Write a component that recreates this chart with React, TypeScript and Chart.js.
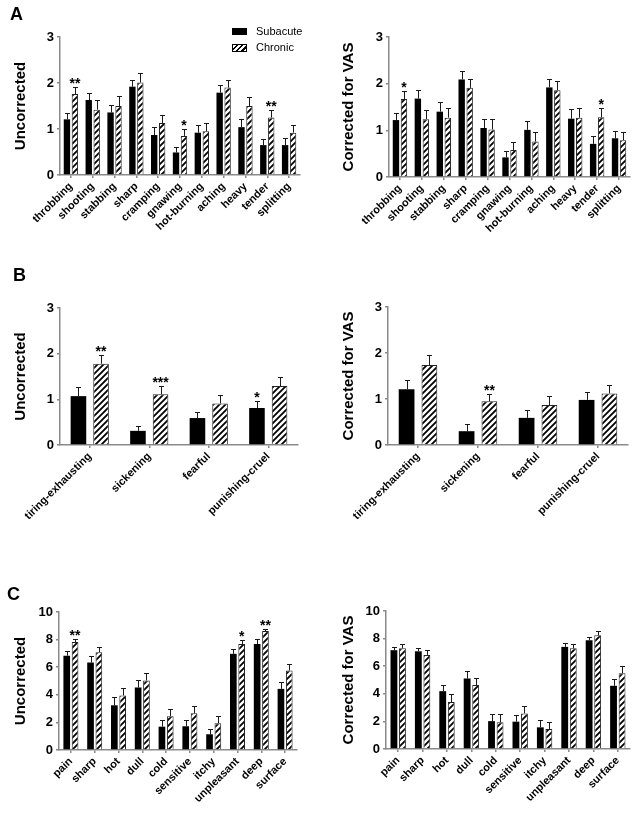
import React, { useEffect, useRef } from "react";
import { Chart, registerables } from "chart.js";

Chart.register(...registerables);

const FONT = "'Liberation Sans', Arial, sans-serif";

// ---------- Panel A ----------
const labelsA = ["throbbing", "shooting", "stabbing", "sharp", "cramping", "gnawing", "hot-burning", "aching", "heavy", "tender", "splitting"];
const aUncSub = [1.21, 1.63, 1.36, 1.92, 0.87, 0.49, 0.92, 1.79, 1.04, 0.65, 0.65];
const aUncSubErr = [0.13, 0.15, 0.16, 0.15, 0.17, 0.11, 0.17, 0.16, 0.18, 0.13, 0.16];
const aUncChr = [1.76, 1.42, 1.5, 2.01, 1.13, 0.85, 0.95, 1.9, 1.5, 1.25, 0.92];
const aUncChrErr = [0.15, 0.2, 0.21, 0.2, 0.17, 0.15, 0.18, 0.16, 0.19, 0.17, 0.16];
const aUncSubSig = ["", "", "", "", "", "", "", "", "", "", ""];
const aUncChrSig = ["**", "", "", "", "", "*", "", "", "", "**", ""];

const aCorSub = [1.22, 1.68, 1.4, 2.09, 1.05, 0.42, 1.01, 1.92, 1.25, 0.71, 0.83];
const aCorSubErr = [0.16, 0.18, 0.2, 0.18, 0.19, 0.14, 0.19, 0.18, 0.2, 0.16, 0.15];
const aCorChr = [1.67, 1.24, 1.27, 1.91, 1.02, 0.58, 0.76, 1.86, 1.27, 1.28, 0.79];
const aCorChrErr = [0.17, 0.2, 0.2, 0.19, 0.22, 0.16, 0.21, 0.2, 0.2, 0.19, 0.17];
const aCorSubSig = ["", "", "", "", "", "", "", "", "", "", ""];
const aCorChrSig = ["*", "", "", "", "", "", "", "", "", "*", ""];

// ---------- Panel B ----------
const labelsB = ["tiring-exhausting", "sickening", "fearful", "punishing-cruel"];
const bUncSub = [1.07, 0.31, 0.59, 0.81];
const bUncSubErr = [0.2, 0.11, 0.14, 0.16];
const bUncChr = [1.78, 1.11, 0.91, 1.29];
const bUncChrErr = [0.19, 0.19, 0.18, 0.19];
const bUncSubSig = ["", "", "", "*"];
const bUncChrSig = ["**", "***", "", ""];

const bCorSub = [1.21, 0.3, 0.59, 0.98];
const bCorSubErr = [0.21, 0.16, 0.18, 0.18];
const bCorChr = [1.74, 0.95, 0.87, 1.12];
const bCorChrErr = [0.22, 0.15, 0.19, 0.19];
const bCorSubSig = ["", "", "", ""];
const bCorChrSig = ["", "**", "", ""];

// ---------- Panel C ----------
const labelsC = ["pain", "sharp", "hot", "dull", "cold", "sensitive", "itchy", "unpleasant", "deep", "surface"];
const cUncSub = [6.83, 6.34, 3.24, 4.53, 1.69, 1.72, 1.14, 6.97, 7.68, 4.43];
const cUncSubErr = [0.31, 0.44, 0.59, 0.51, 0.46, 0.43, 0.41, 0.34, 0.33, 0.49];
const cUncChr = [7.82, 7.09, 3.95, 5.04, 2.45, 2.66, 1.94, 7.68, 8.62, 5.76];
const cUncChrErr = [0.24, 0.37, 0.51, 0.53, 0.5, 0.51, 0.51, 0.31, 0.17, 0.49];
const cUncSubSig = ["", "", "", "", "", "", "", "", "", ""];
const cUncChrSig = ["**", "", "", "", "", "", "", "*", "**", ""];

const cCorSub = [7.16, 7.08, 4.19, 5.11, 2.02, 1.98, 1.57, 7.4, 7.88, 4.58];
const cCorSubErr = [0.24, 0.27, 0.48, 0.53, 0.51, 0.48, 0.5, 0.29, 0.26, 0.48];
const cCorChr = [7.3, 6.82, 3.4, 4.63, 1.93, 2.58, 1.45, 7.3, 8.24, 5.49];
const cCorChrErr = [0.29, 0.34, 0.55, 0.55, 0.58, 0.53, 0.5, 0.29, 0.31, 0.56];
const cCorSubSig = ["", "", "", "", "", "", "", "", "", ""];
const cCorChrSig = ["", "", "", "", "", "", "", "", "", ""];

const seriesNames = ["Subacute", "Chronic"];

function makeHatch(): CanvasPattern | string {
  const c = document.createElement("canvas");
  const s = 6;
  c.width = s;
  c.height = s;
  const g = c.getContext("2d");
  if (!g) return "#fff";
  g.fillStyle = "#fff";
  g.fillRect(0, 0, s, s);
  g.strokeStyle = "#000";
  g.lineWidth = 1.8;
  g.beginPath();
  g.moveTo(0, s);
  g.lineTo(s, 0);
  g.moveTo(-s / 2, s / 2);
  g.lineTo(s / 2, -s / 2);
  g.moveTo(s / 2, s + s / 2);
  g.lineTo(s + s / 2, s / 2);
  g.stroke();
  const p = g.createPattern(c, "repeat");
  return p || "#fff";
}

const errPlugin = {
  id: "errbars",
  afterDatasetsDraw(chart: any) {
    const { ctx } = chart;
    const y = chart.scales.y;
    chart.data.datasets.forEach((ds: any, di: number) => {
      const meta = chart.getDatasetMeta(di);
      meta.data.forEach((bar: any, i: number) => {
        const v = ds.data[i];
        const e = ds.err[i];
        const top = y.getPixelForValue(v + e);
        const x = Math.round(bar.x) + 0.5;
        ctx.save();
        ctx.strokeStyle = "#1a1a1a";
        ctx.lineWidth = 1;
        ctx.beginPath();
        ctx.moveTo(x, bar.y);
        ctx.lineTo(x, Math.round(top) + 0.5);
        ctx.moveTo(x - 2.5, Math.round(top) + 0.5);
        ctx.lineTo(x + 2.5, Math.round(top) + 0.5);
        ctx.stroke();
        const s = ds.sig[i];
        if (s) {
          ctx.fillStyle = "#000";
          ctx.font = `bold 14px ${FONT}`;
          ctx.textAlign = "center";
          ctx.textBaseline = "alphabetic";
          ctx.fillText(s, bar.x, top + 1);
        }
        ctx.restore();
      });
    });
  },
};

type PanelProps = {
  left: number;
  top: number;
  width: number;
  height: number;
  area: { l: number; t: number; r: number; b: number };
  labels: string[];
  sub: number[];
  subErr: number[];
  subSig: string[];
  chr: number[];
  chrErr: number[];
  chrSig: string[];
  yMax: number;
  step: number;
  title: string;
  titlePad: number;
  catPct: number;
  barPct: number;
};

function Panel(p: PanelProps) {
  const ref = useRef<HTMLCanvasElement>(null);
  useEffect(() => {
    if (!ref.current) return;
    const hatch = makeHatch();
    const chart = new Chart(ref.current, {
      type: "bar",
      data: {
        labels: p.labels,
        datasets: [
          {
            label: seriesNames[0],
            data: p.sub,
            backgroundColor: "#000",
            borderColor: "#000",
            borderWidth: 0,
            categoryPercentage: p.catPct,
            barPercentage: p.barPct,
            err: p.subErr,
            sig: p.subSig,
          } as any,
          {
            label: seriesNames[1],
            data: p.chr,
            backgroundColor: hatch,
            borderColor: "#222",
            borderWidth: 1,
            borderSkipped: "bottom",
            categoryPercentage: p.catPct,
            barPercentage: p.barPct,
            err: p.chrErr,
            sig: p.chrSig,
          } as any,
        ],
      },
      options: {
        responsive: false,
        animation: false,
        devicePixelRatio: 1,
        layout: {
          padding: { left: 0, top: p.area.t, right: p.width - p.area.r, bottom: 0 },
        },
        plugins: {
          legend: { display: false },
          tooltip: { enabled: false },
        },
        scales: {
          x: {
            offset: true,
            grid: {
              display: true,
              drawOnChartArea: false,
              drawTicks: true,
              tickLength: 3,
              color: "#8a8a8a",
              lineWidth: 1.5,
              offset: false,
            },
            border: { display: true, color: "#8a8a8a", width: 1.5 },
            ticks: {
              autoSkip: false,
              minRotation: 45,
              maxRotation: 45,
              padding: 2,
              color: "#000",
              font: { family: FONT, size: 11, weight: "bold" },
            },
            afterFit: (s: any) => {
              s.height = p.height - p.area.b;
            },
          },
          y: {
            min: 0,
            max: p.yMax,
            grid: {
              display: true,
              drawOnChartArea: false,
              drawTicks: true,
              tickLength: 3,
              color: "#8a8a8a",
              lineWidth: 1.5,
            },
            border: { display: true, color: "#8a8a8a", width: 1.5 },
            ticks: {
              stepSize: p.step,
              padding: 3,
              color: "#000",
              font: { family: FONT, size: 13, weight: "bold" },
            },
            title: {
              display: true,
              text: p.title,
              color: "#000",
              padding: { top: p.titlePad, bottom: 0 },
              font: { family: FONT, size: 15, weight: "bold" },
            },
            afterFit: (s: any) => {
              s.width = p.area.l;
            },
          },
        },
      } as any,
      plugins: [errPlugin],
    });
    return () => chart.destroy();
  }, []);
  return (
    <canvas
      ref={ref}
      width={p.width}
      height={p.height}
      style={{ position: "absolute", left: p.left, top: p.top, width: p.width, height: p.height }}
    />
  );
}

const letterStyle = (left: number, top: number): React.CSSProperties => ({
  position: "absolute",
  left,
  top,
  fontFamily: FONT,
  fontWeight: "bold",
  fontSize: 18,
  lineHeight: "18px",
  color: "#000",
});

export default function App() {
  return (
    <div style={{ position: "absolute", left: 0, top: 0, width: 637, height: 813, background: "#fff", overflow: "hidden" }}>
      <Panel left={0} top={0} width={318} height={238} area={{ l: 60, t: 37, r: 300, b: 175 }}
        labels={labelsA} sub={aUncSub} subErr={aUncSubErr} subSig={aUncSubSig}
        chr={aUncChr} chrErr={aUncChrErr} chrSig={aUncChrSig}
        yMax={3} step={1} title="Uncorrected" titlePad={12} catPct={0.73} barPct={0.8} />
      <Panel left={318} top={0} width={319} height={238} area={{ l: 71, t: 37, r: 312, b: 177 }}
        labels={labelsA} sub={aCorSub} subErr={aCorSubErr} subSig={aCorSubSig}
        chr={aCorChr} chrErr={aCorChrErr} chrSig={aCorChrSig}
        yMax={3} step={1} title="Corrected for VAS" titlePad={22} catPct={0.73} barPct={0.8} />
      <Panel left={0} top={240} width={318} height={280} area={{ l: 60, t: 68, r: 298, b: 205 }}
        labels={labelsB} sub={bUncSub} subErr={bUncSubErr} subSig={bUncSubSig}
        chr={bUncChr} chrErr={bUncChrErr} chrSig={bUncChrSig}
        yMax={3} step={1} title="Uncorrected" titlePad={12} catPct={0.76} barPct={0.69} />
      <Panel left={318} top={240} width={319} height={280} area={{ l: 70, t: 67, r: 310, b: 205 }}
        labels={labelsB} sub={bCorSub} subErr={bCorSubErr} subSig={bCorSubSig}
        chr={bCorChr} chrErr={bCorChrErr} chrSig={bCorChrSig}
        yMax={3} step={1} title="Corrected for VAS" titlePad={22} catPct={0.76} barPct={0.69} />
      <Panel left={0} top={540} width={318} height={273} area={{ l: 59, t: 72, r: 297, b: 210 }}
        labels={labelsC} sub={cUncSub} subErr={cUncSubErr} subSig={cUncSubSig}
        chr={cUncChr} chrErr={cUncChrErr} chrSig={cUncChrSig}
        yMax={10} step={2} title="Uncorrected" titlePad={12} catPct={0.7} barPct={0.8} />
      <Panel left={318} top={540} width={319} height={273} area={{ l: 68, t: 71, r: 312, b: 209 }}
        labels={labelsC} sub={cCorSub} subErr={cCorSubErr} subSig={cCorSubSig}
        chr={cCorChr} chrErr={cCorChrErr} chrSig={cCorChrSig}
        yMax={10} step={2} title="Corrected for VAS" titlePad={22} catPct={0.7} barPct={0.8} />

      <div style={letterStyle(10, 5)}>A</div>
      <div style={letterStyle(13, 266)}>B</div>
      <div style={letterStyle(7, 585)}>C</div>

      <div style={{ position: "absolute", left: 232, top: 28, width: 15, height: 7, background: "#000" }} />
      <div style={{ position: "absolute", left: 256, top: 25, fontFamily: FONT, fontSize: 11, lineHeight: "13px", color: "#000" }}>
        {seriesNames[0]}
      </div>
      <div
        style={{
          position: "absolute",
          left: 232,
          top: 44,
          width: 13,
          height: 6,
          border: "1px solid #000",
          background: "repeating-linear-gradient(135deg, #fff 0px, #fff 2.2px, #000 2.2px, #000 3.8px)",
        }}
      />
      <div style={{ position: "absolute", left: 256, top: 41, fontFamily: FONT, fontSize: 11, lineHeight: "13px", color: "#000" }}>
        {seriesNames[1]}
      </div>
    </div>
  );
}
